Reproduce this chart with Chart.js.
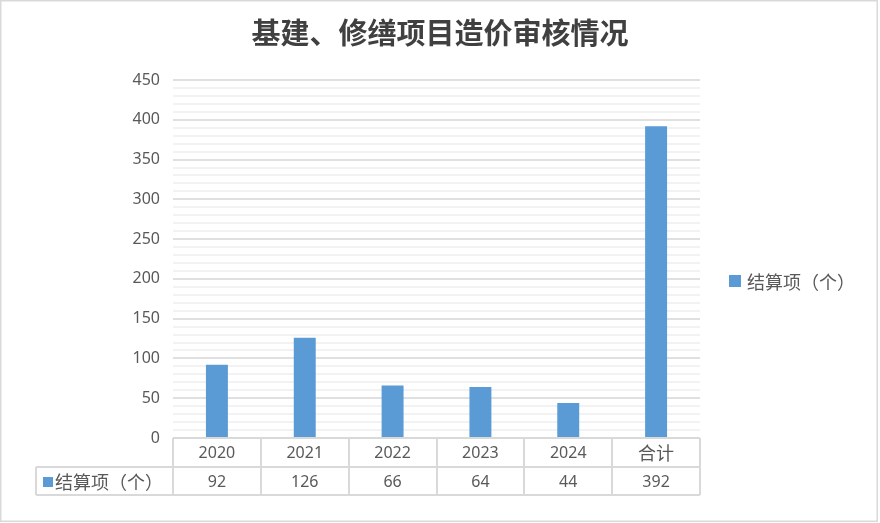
<!DOCTYPE html>
<html>
<head>
<meta charset="utf-8">
<script src="https://cdn.jsdelivr.net/npm/chart.js@4/dist/chart.umd.min.js"></script>
<style>
  html, body { margin: 0; padding: 0; background: #fff; }
  #wrap { width: 880px; height: 523px; }
</style>
</head>
<body>
<div id="wrap"><canvas id="auditChart" width="880" height="523"></canvas></div>
<script>
// 基建、修缮项目结算项数量（按年份）
const chartTitle = '基建、修缮项目造价审核情况';
const seriesName = '结算项（个）';
const categories = ['2020', '2021', '2022', '2023', '2024', '合计'];
const settledCounts = [92, 126, 66, 64, 44, 392];
const yMax = 450;
const yStep = 10;
const yLabelStep = 50;

const barColor = '#5B9BD5';
const textColor = '#595959';
const lineColor = '#d9d9d9';
const fontFamily = '"Noto Sans", "Noto Sans CJK SC", sans-serif';
const cjkFamily = '"Noto Sans CJK SC", "Noto Sans", sans-serif';

// title, right-hand legend, data table under the axis and the outer frame
const decorPlugin = {
    id: 'decor',
    afterDraw(chart) {
        const ctx = chart.ctx;
        const area = chart.chartArea;
        const x = chart.scales.x;
        const colW = (area.right - area.left) / categories.length;
        const row1 = area.bottom + 29;
        const row2 = area.bottom + 57;
        const legendLeft = 36;

        ctx.save();

        // title
        ctx.fillStyle = '#404040';
        ctx.font = 'bold 29px ' + cjkFamily;
        ctx.textAlign = 'center';
        ctx.textBaseline = 'middle';
        ctx.fillText(chartTitle, chart.width / 2, 33);

        // legend on the right
        ctx.fillStyle = barColor;
        ctx.fillRect(729, 275, 12, 12);
        ctx.fillStyle = textColor;
        ctx.font = '18px ' + cjkFamily;
        ctx.textAlign = 'left';
        ctx.fillText(seriesName, 747, 282);

        // table grid
        ctx.strokeStyle = lineColor;
        ctx.lineWidth = 2;
        ctx.beginPath();
        ctx.moveTo(area.left, area.bottom);
        ctx.lineTo(area.right, area.bottom);
        ctx.moveTo(legendLeft, row1);
        ctx.lineTo(area.right, row1);
        ctx.moveTo(legendLeft, row2);
        ctx.lineTo(area.right, row2);
        ctx.moveTo(legendLeft, row1);
        ctx.lineTo(legendLeft, row2);
        for (let i = 0; i <= categories.length; i++) {
            const cx = Math.round(area.left + i * colW);
            ctx.moveTo(cx, area.bottom);
            ctx.lineTo(cx, row2);
        }
        ctx.stroke();

        // table texts
        ctx.textAlign = 'center';
        categories.forEach((c, i) => {
            const cx = x.getPixelForValue(i);
            ctx.fillStyle = textColor;
            ctx.font = (/^\d+$/.test(c) ? '16px ' + fontFamily : '18px ' + cjkFamily);
            ctx.fillText(c, cx, area.bottom + 15);
            ctx.font = '16px ' + fontFamily;
            ctx.fillText(String(settledCounts[i]), cx, row1 + 15);
        });

        // series key in the table
        ctx.fillStyle = barColor;
        ctx.fillRect(43, row1 + 10, 10, 10);
        ctx.fillStyle = textColor;
        ctx.font = '18px ' + cjkFamily;
        ctx.textAlign = 'left';
        ctx.fillText(seriesName, 55, row1 + 15);

        // outer frame
        ctx.strokeStyle = lineColor;
        ctx.lineWidth = 1.5;
        ctx.strokeRect(0.75, 0.75, 876.5, 520.5);

        ctx.restore();
    }
};

new Chart(document.getElementById('auditChart'), {
    type: 'bar',
    data: {
        labels: categories,
        datasets: [{
            label: seriesName,
            data: settledCounts,
            backgroundColor: barColor,
            categoryPercentage: 1,
            barPercentage: 0.25
        }]
    },
    options: {
        responsive: false,
        animation: false,
        layout: {
            autoPadding: false,
            padding: { top: 80, right: 180, bottom: 85, left: 0 }
        },
        plugins: {
            legend: { display: false },
            title: { display: false },
            tooltip: { enabled: false }
        },
        scales: {
            x: {
                display: false
            },
            y: {
                min: 0,
                max: yMax,
                afterFit(scale) { scale.width = 173; },
                border: { display: false },
                grid: {
                    drawTicks: false,
                    lineWidth: 2,
                    color: c => (c.tick && c.tick.value % yLabelStep === 0) ? '#e0e0e0' : '#f2f2f2'
                },
                ticks: {
                    stepSize: yStep,
                    autoSkip: false,
                    padding: 13,
                    color: textColor,
                    font: { family: fontFamily, size: 16 },
                    callback: v => (v % yLabelStep === 0 ? String(v) : '')
                }
            }
        }
    },
    plugins: [decorPlugin]
});
</script>
</body>
</html>
